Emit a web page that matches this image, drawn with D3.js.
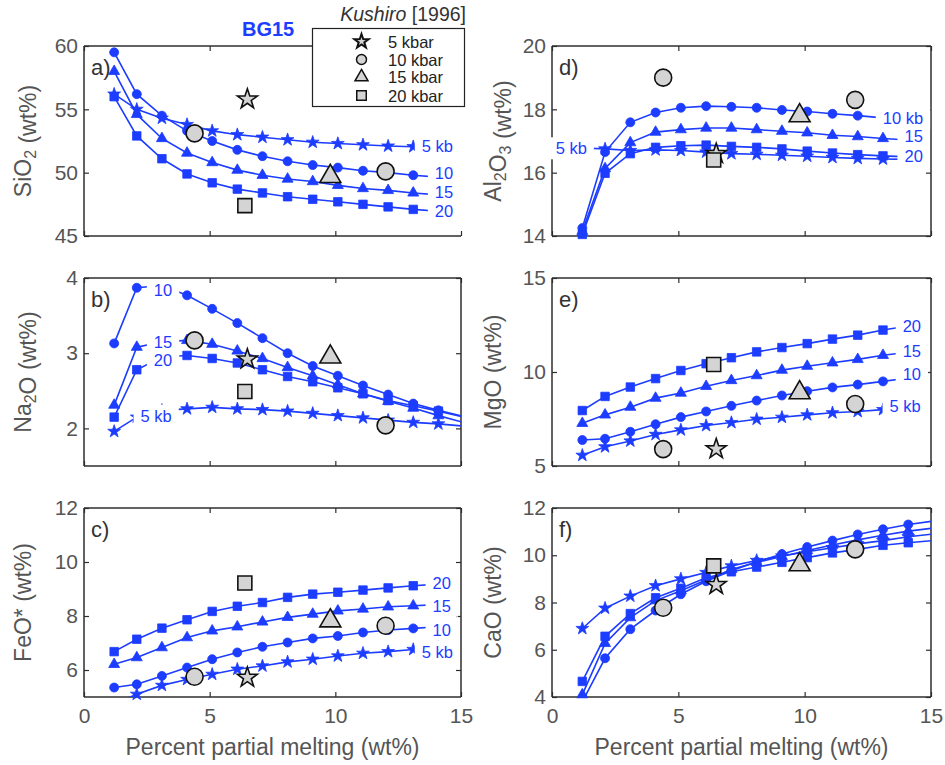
<!DOCTYPE html>
<html>
<head>
<meta charset="utf-8">
<script src="https://cdn.jsdelivr.net/npm/d3@7"></script>
<style>
  body { margin: 0; background: #fff; }
  svg { display: block; }
  text { font-family: "Liberation Sans", Arial, Helvetica, sans-serif; }
</style>
</head>
<body>
<svg id="chart" width="945" height="765"></svg>
<script>
// Degree of melting of the BG15 model runs (wt%)
const meltF = [1.2, 2.1, 3.1, 4.1, 5.1, 6.1, 7.1, 8.1, 9.1, 10.1, 11.1, 12.1, 13.1, 14.1, 15.1];
const pressures = ["5", "10", "15", "20"];

// BG15 melt compositions (wt%), one array per oxide and pressure
const sio2_5kb  = [56.2, 55.0, 54.3, 53.8, 53.3, 53.0, 52.8, 52.6, 52.4, 52.3, 52.2, 52.1, 52.05, 52.0];
const sio2_10kb = [59.5, 56.2, 54.5, 53.3, 52.5, 51.8, 51.3, 50.9, 50.6, 50.4, 50.15, 50.0, 49.8, 49.65];
const sio2_15kb = [58.0, 54.6, 52.7, 51.55, 50.8, 50.2, 49.8, 49.5, 49.3, 49.0, 48.75, 48.6, 48.4, 48.25];
const sio2_20kb = [56.0, 52.9, 51.1, 49.9, 49.2, 48.7, 48.4, 48.1, 47.9, 47.7, 47.5, 47.3, 47.1, 46.95];

const na2o_5kb  = [1.96, 2.15, 2.24, 2.26, 2.28, 2.26, 2.25, 2.23, 2.20, 2.17, 2.14, 2.11, 2.08, 2.06, 2.03];
const na2o_10kb = [3.13, 3.87, 3.90, 3.77, 3.59, 3.40, 3.20, 3.00, 2.83, 2.70, 2.57, 2.45, 2.33, 2.24, 2.16];
const na2o_15kb = [2.31, 3.08, 3.15, 3.17, 3.12, 3.03, 2.93, 2.81, 2.70, 2.58, 2.46, 2.36, 2.27, 2.17, 2.08];
const na2o_20kb = [2.15, 2.78, 2.95, 2.97, 2.93, 2.87, 2.78, 2.69, 2.62, 2.54, 2.46, 2.37, 2.30, 2.23, 2.15];

const feo_5kb  = [4.75, 5.10, 5.43, 5.65, 5.84, 6.03, 6.15, 6.30, 6.40, 6.52, 6.62, 6.68, 6.76, 6.84];
const feo_10kb = [5.35, 5.47, 5.78, 6.09, 6.40, 6.65, 6.86, 7.02, 7.17, 7.26, 7.39, 7.48, 7.54, 7.60];
const feo_15kb = [6.21, 6.46, 6.83, 7.20, 7.45, 7.60, 7.78, 7.95, 8.07, 8.19, 8.26, 8.34, 8.38, 8.42];
const feo_20kb = [6.68, 7.14, 7.55, 7.86, 8.17, 8.36, 8.50, 8.69, 8.81, 8.88, 8.96, 9.04, 9.12, 9.18];

const al2o3_5kb  = [16.78, 16.75, 16.70, 16.72, 16.70, 16.65, 16.60, 16.58, 16.55, 16.52, 16.48, 16.45, 16.43, 16.42];
const al2o3_10kb = [14.25, 16.65, 17.59, 17.90, 18.05, 18.10, 18.08, 18.05, 17.98, 17.93, 17.86, 17.80, 17.73, 17.66];
const al2o3_15kb = [14.15, 16.13, 16.95, 17.28, 17.36, 17.41, 17.41, 17.36, 17.31, 17.26, 17.18, 17.14, 17.08, 17.03];
const al2o3_20kb = [14.05, 15.98, 16.60, 16.80, 16.85, 16.87, 16.83, 16.80, 16.75, 16.68, 16.62, 16.57, 16.53, 16.50];

const mgo_5kb  = [5.57, 6.02, 6.33, 6.68, 6.92, 7.15, 7.31, 7.49, 7.59, 7.72, 7.83, 7.90, 8.00, 8.08];
const mgo_10kb = [6.38, 6.45, 6.82, 7.22, 7.60, 7.90, 8.20, 8.48, 8.75, 8.98, 9.18, 9.33, 9.50, 9.68];
const mgo_15kb = [7.27, 7.72, 8.13, 8.61, 8.88, 9.24, 9.55, 9.81, 10.10, 10.31, 10.49, 10.67, 10.89, 11.05];
const mgo_20kb = [7.95, 8.70, 9.20, 9.65, 10.08, 10.44, 10.76, 11.07, 11.30, 11.51, 11.75, 11.96, 12.23, 12.45];

const cao_5kb  = [6.90, 7.76, 8.27, 8.71, 9.00, 9.27, 9.55, 9.78, 9.97, 10.15, 10.32, 10.48, 10.62, 10.78, 10.90];
const cao_10kb = [3.80, 5.64, 6.87, 7.66, 8.35, 8.90, 9.34, 9.72, 10.05, 10.35, 10.62, 10.88, 11.10, 11.30, 11.45];
const cao_15kb = [4.10, 6.27, 7.36, 8.08, 8.50, 8.95, 9.40, 9.70, 9.95, 10.20, 10.43, 10.65, 10.85, 11.02, 11.15];
const cao_20kb = [4.66, 6.57, 7.53, 8.20, 8.60, 9.05, 9.30, 9.50, 9.70, 9.90, 10.10, 10.25, 10.42, 10.53, 10.62];

// Kushiro [1996] experimental melts
const kushiroF = [6.5, 4.4, 12.0, 9.8, 6.4];
const kushiroP = ["5", "10", "10", "15", "20"];
const kushiroSiO2  = [55.8, 53.1, 50.1, 49.7, 47.4];
const kushiroNa2O  = [2.92, 3.17, 2.04, 2.95, 2.49];
const kushiroFeO   = [5.72, 5.75, 7.64, 7.82, 9.22];
const kushiroAl2O3 = [16.6, 19.0, 18.3, 17.8, 16.4];
const kushiroMgO   = [5.9, 5.9, 8.3, 8.9, 10.4];
const kushiroCaO   = [8.75, 7.78, 10.25, 9.6, 9.55];

const xTicks = [0, 5, 10, 15];
const legendLabels = ["5 kbar", "10 kbar", "15 kbar", "20 kbar"];

const BLUE = "#1c3cff";
const GREY_FILL = "#d4d4d4";
const FRAME = "#2e2e2e";
const shapeOf = { "5": "star", "10": "circle", "15": "triangle", "20": "square" };

const svg = d3.select("#chart");

const cols = [{ x0: 84, x1: 461 }, { x0: 552, x1: 931 }];
const rows = [{ y0: 46, y1: 236 }, { y0: 278, y1: 466 }, { y0: 508, y1: 697 }];

// panel layout; tags are the in-plot pressure labels (series index, text, position in data units)
const panels = [
  { letter: "a)", col: 0, row: 0, y: [45, 60], yTicks: [45, 50, 55, 60],
    title: [["SiO"], ["2", true], [" (wt%)"]],
    model: [sio2_5kb, sio2_10kb, sio2_15kb, sio2_20kb], kushiro: kushiroSiO2, openRight: true,
    tags: [[0, "5 kb", 13.44, 52.1], [1, "10", 13.96, 50.0], [2, "15", 13.96, 48.5], [3, "20", 13.96, 46.95]] },
  { letter: "b)", col: 0, row: 1, y: [1.5, 4], yTicks: [2, 3, 4],
    title: [["Na"], ["2", true], ["O (wt%)"]],
    model: [na2o_5kb, na2o_10kb, na2o_15kb, na2o_20kb], kushiro: kushiroNa2O,
    tags: [[1, "10", 2.78, 3.84], [2, "15", 2.78, 3.15], [3, "20", 2.78, 2.91], [0, "5 kb", 2.25, 2.17]] },
  { letter: "c)", col: 0, row: 2, y: [5, 12], yTicks: [6, 8, 10, 12],
    title: [["FeO* (wt%)"]],
    model: [feo_5kb, feo_10kb, feo_15kb, feo_20kb], kushiro: kushiroFeO,
    tags: [[3, "20", 13.87, 9.22], [2, "15", 13.87, 8.38], [1, "10", 13.87, 7.5], [0, "5 kb", 13.44, 6.68]] },
  { letter: "d)", col: 1, row: 0, y: [14, 20], yTicks: [14, 16, 18, 20],
    title: [["Al"], ["2", true], ["O"], ["3", true], [" (wt%)"]],
    model: [al2o3_5kb, al2o3_10kb, al2o3_15kb, al2o3_20kb], kushiro: kushiroAl2O3,
    tags: [[1, "10 kb", 13.09, 17.72], [2, "15", 13.95, 17.16], [3, "20", 13.95, 16.52], [0, "5 kb", 1.38, 16.77, "end"]] },
  { letter: "e)", col: 1, row: 1, y: [5, 15], yTicks: [5, 10, 15],
    title: [["MgO (wt%)"]],
    model: [mgo_5kb, mgo_10kb, mgo_15kb, mgo_20kb], kushiro: kushiroMgO,
    tags: [[3, "20", 13.88, 12.46], [2, "15", 13.88, 11.12], [1, "10", 13.88, 9.87], [0, "5 kb", 13.36, 8.17]] },
  { letter: "f)", col: 1, row: 2, y: [4, 12], yTicks: [4, 6, 8, 10, 12],
    title: [["CaO (wt%)"]],
    model: [cao_5kb, cao_10kb, cao_15kb, cao_20kb], kushiro: kushiroCaO,
    tags: [] }
];

function starPath(R) {
  const r = R * 0.39, pts = [];
  for (let k = 0; k < 10; k++) {
    const a = -Math.PI / 2 + k * Math.PI / 5, rr = k % 2 ? r : R;
    pts.push([rr * Math.cos(a), rr * Math.sin(a)]);
  }
  return "M" + pts.map(p => p[0].toFixed(2) + "," + p[1].toFixed(2)).join("L") + "Z";
}
function shapePath(kind, s) {
  if (kind === "circle") return d3.symbol(d3.symbolCircle, Math.PI * (s / 2) ** 2)();
  if (kind === "square") return d3.symbol(d3.symbolSquare, s * s)();
  if (kind === "triangle") return d3.symbol(d3.symbolTriangle, Math.sqrt(3) / 4 * s * s)();
  return starPath(s / 2);
}
const modelSize = { circle: 9, square: 8.5, triangle: 11, star: 13.5 };
const kushiroSize = { circle: 17, square: 14, triangle: 21, star: 21 };
const tickFmt = d3.format("~g");

panels.forEach((p, pi) => {
  const c = cols[p.col], r = rows[p.row];
  const w = c.x1 - c.x0, h = r.y1 - r.y0;
  const x = d3.scaleLinear().domain([0, 15]).range([0, w]);
  const y = d3.scaleLinear().domain(p.y).range([h, 0]);
  const g = svg.append("g").attr("transform", `translate(${c.x0},${r.y0})`);

  g.append("clipPath").attr("id", "clip" + pi)
    .append("rect").attr("width", w).attr("height", h);

  // frame and inward ticks
  const styleAxis = sel => {
    sel.select(".domain").remove();
    sel.selectAll(".tick line").attr("stroke", FRAME).attr("stroke-width", 1.2);
    sel.selectAll(".tick text").attr("fill", "#555").attr("font-size", 21)
      .attr("font-family", '"Liberation Sans", Arial, sans-serif');
  };
  g.append("g").attr("transform", `translate(0,${h})`)
    .call(d3.axisBottom(x).tickValues(xTicks).tickSize(-5).tickPadding(11)
      .tickFormat(p.row === 2 ? tickFmt : () => ""))
    .call(styleAxis);
  g.append("g").call(d3.axisTop(x).tickValues(xTicks).tickSize(-5).tickFormat(() => "")).call(styleAxis);
  g.append("g").call(d3.axisLeft(y).tickValues(p.yTicks).tickSize(-5).tickPadding(6).tickFormat(tickFmt))
    .call(styleAxis);
  if (!p.openRight) {
    g.append("g").attr("transform", `translate(${w},0)`)
      .call(d3.axisRight(y).tickValues(p.yTicks).tickSize(-5).tickFormat(() => "")).call(styleAxis);
  }
  const frame = g.append("g").attr("stroke", FRAME).attr("stroke-width", 1.5).attr("fill", "none");
  frame.append("line").attr("x1", 0).attr("x2", w).attr("y1", 0).attr("y2", 0);
  frame.append("line").attr("x1", 0).attr("x2", w).attr("y1", h).attr("y2", h);
  frame.append("line").attr("x1", 0).attr("x2", 0).attr("y1", 0).attr("y2", h);
  if (!p.openRight) frame.append("line").attr("x1", w).attr("x2", w).attr("y1", 0).attr("y2", h);

  // model curves
  const line = d3.line().defined(v => v != null).x((v, i) => x(meltF[i])).y(v => y(v));
  const plot = g.append("g").attr("clip-path", `url(#clip${pi})`);
  p.model.forEach(vals => {
    plot.append("path").datum(vals).attr("d", line)
      .attr("fill", "none").attr("stroke", BLUE).attr("stroke-width", 1.6);
  });
  const marks = g.append("g");
  p.model.forEach((vals, si) => {
    const kind = shapeOf[pressures[si]];
    vals.forEach((v, i) => {
      if (v == null || v < p.y[0] || v > p.y[1] || meltF[i] > 15) return;
      marks.append("path").attr("d", shapePath(kind, modelSize[kind]))
        .attr("transform", `translate(${x(meltF[i])},${y(v)})`)
        .attr("fill", BLUE).attr("stroke", BLUE).attr("stroke-width", 0.8);
    });
  });

  // pressure labels on white boxes over the curves
  const boxes = g.append("g"), texts = g.append("g");
  p.tags.forEach(t => {
    const tx = texts.append("text").attr("x", x(t[2])).attr("y", y(t[3]))
      .attr("dominant-baseline", "central").attr("text-anchor", t[4] || "start")
      .attr("font-size", 16.5).attr("fill", BLUE).text(t[1]);
    const b = tx.node().getBBox();
    boxes.append("rect").attr("x", b.x - 7).attr("y", b.y - 2).attr("width", b.width + 14)
      .attr("height", b.height + 4).attr("fill", "#fff");
  });

  // Kushiro [1996] experiments
  p.kushiro.forEach((v, i) => {
    const kind = shapeOf[kushiroP[i]];
    g.append("path").attr("d", shapePath(kind, kushiroSize[kind]))
      .attr("transform", `translate(${x(kushiroF[i])},${y(v)})`)
      .attr("fill", GREY_FILL).attr("stroke", "#111").attr("stroke-width", 1.6);
  });

  // panel letter
  g.append("text").attr("x", 7).attr("y", 29).attr("font-size", 22).attr("fill", "#333").text(p.letter);

  // y axis title
  const yt = svg.append("text")
    .attr("transform", `translate(${p.col === 0 ? 31 : 501},${r.y0 + h / 2}) rotate(-90)`)
    .attr("text-anchor", "middle").attr("font-size", 23).attr("fill", "#555");
  p.title.forEach(part => {
    if (part[1]) {
      yt.append("tspan").attr("dy", 5).attr("font-size", 16).text(part[0]);
      yt.append("tspan").attr("dy", -5).text("");
    } else {
      yt.append("tspan").text(part[0]);
    }
  });

  // x axis title
  if (p.row === 2) {
    svg.append("text").attr("x", c.x0 + w / 2).attr("y", 755).attr("text-anchor", "middle")
      .attr("font-size", 23).attr("fill", "#555").text("Percent partial melting (wt%)");
  }
});

// model name
svg.append("text").attr("x", 242).attr("y", 36).attr("font-size", 20).attr("font-weight", "bold")
  .attr("fill", BLUE).text("BG15");

// legend of the experimental data
const lg = svg.append("g");
lg.append("text").attr("x", 466).attr("y", 21).attr("text-anchor", "end").attr("font-size", 19.5)
  .attr("fill", "#333")
  .call(t => { t.append("tspan").attr("font-style", "italic").text("Kushiro"); t.append("tspan").text(" [1996]"); });
lg.append("rect").attr("x", 312.5).attr("y", 28.5).attr("width", 152).attr("height", 78)
  .attr("fill", "#fff").attr("stroke", "#222").attr("stroke-width", 1.2);
const legendSize = { circle: 10, square: 9.5, triangle: 13, star: 15 };
const legendY = [41.5, 59.5, 77, 95.5];
pressures.forEach((pr, i) => {
  const kind = shapeOf[pr];
  lg.append("path").attr("d", shapePath(kind, legendSize[kind]))
    .attr("transform", `translate(361.5,${legendY[i]})`)
    .attr("fill", GREY_FILL).attr("stroke", "#111").attr("stroke-width", kind === "star" ? 2 : 1.5);
  lg.append("text").attr("x", 388).attr("y", legendY[i]).attr("dominant-baseline", "central")
    .attr("font-size", 16.5).attr("fill", "#222").text(legendLabels[i]);
});
</script>
</body>
</html>
